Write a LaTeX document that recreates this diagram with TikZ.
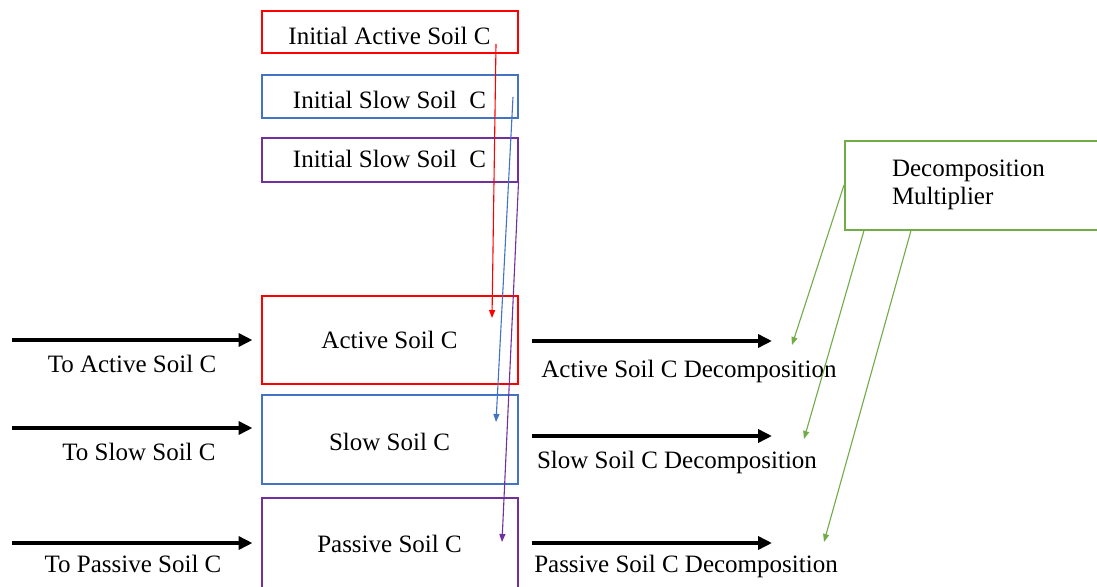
\documentclass[tikz,border=0pt]{standalone}
\usepackage{fontspec}
\setmainfont{Liberation Serif}
\usetikzlibrary{arrows.meta}
\definecolor{cred}{HTML}{FF0000}
\definecolor{cblue}{HTML}{4472C4}
\definecolor{cpurple}{HTML}{7030A0}
\definecolor{cgreen}{HTML}{70AD47}
\begin{document}
\begin{tikzpicture}[x=1pt,y=-1pt,
  every node/.style={font=\fontsize{25}{28}\selectfont},
  box/.style={draw,line width=2pt,minimum width=256pt,inner sep=0pt,text depth=0pt},
  big/.style={line width=4pt,-{Triangle[length=14pt,width=13pt]}},
  thinarrow/.style={line width=1.1pt,-{Triangle[length=8pt,width=6pt]}},
  lab/.style={anchor=base,inner sep=0pt}]
\useasboundingbox (0,0) rectangle (1097,586);
\fill[white] (0,0) rectangle (1097,586);
\clip (0,0) rectangle (1097,586);

% boxes
\node[box,draw=cred,minimum height=42pt,text height=25pt] (ia) at (389.5,32.5) {Initial Active Soil C};
\node[box,draw=cblue,minimum height=43pt,text height=24pt] (isb) at (389.5,96) {Initial Slow Soil~~C};
\node[box,draw=cpurple,minimum height=44pt,text height=15pt] (isp) at (389.5,159.5) {Initial Slow Soil~~C};
\node[box,draw=cred,minimum height=88pt,text height=17pt] (act) at (389.5,339.5) {Active Soil C};
\node[box,draw=cblue,minimum height=89pt,text height=22pt] (slow) at (389.5,439) {Slow Soil C};
\node[box,draw=cpurple,minimum height=92pt,text height=16pt] (pas) at (389.5,544) {Passive Soil C};

\node[draw=cgreen,line width=2pt,minimum height=89pt,text width=171pt,inner xsep=47pt,inner ysep=0pt,align=left] (dm) at (977.5,185) {Decomposition\\Multiplier};

% inflow arrows
\coordinate (ta) at (12,340);
\coordinate (ts) at (12,428);
\coordinate (tp) at (12,543);
\draw[big,shorten >=8pt] (ta) -- (act.west |- ta);
\draw[big,shorten >=8pt] (ts) -- (slow.west |- ts);
\draw[big,shorten >=8pt] (tp) -- (pas.west |- tp);
\node[lab] (lta) at (132,372) {To Active Soil C};
\node[lab] (lts) at (139,460) {To Slow Soil C};
\node[lab] (ltp) at (133,572) {To Passive Soil C};

% outflow arrows
\coordinate (ea) at (772,341);
\coordinate (es) at (772,436);
\coordinate (ep) at (772,543);
\draw[big,shorten <=13pt] (act.east |- ea) -- (ea);
\draw[big,shorten <=13pt] (slow.east |- es) -- (es);
\draw[big,shorten <=13pt] (pas.east |- ep) -- (ep);
\node[lab] (lda) at (689,377) {Active Soil C Decomposition};
\node[lab] (lds) at (677,468) {Slow Soil C Decomposition};
\node[lab] (ldp) at (686,572) {Passive Soil C Decomposition};

% initial value links
\coordinate (rs) at (496,44);
\coordinate (re) at (492,318);
\coordinate (bs) at (513,97);
\coordinate (be) at (496,422);
\coordinate (pe) at (502,542);
\draw[thinarrow,cred] (rs) -- (re);
\draw[thinarrow,cblue] (bs) -- (be);
\draw[thinarrow,cpurple] (isp.south east) -- (pe);

% multiplier links
\coordinate (g1) at (792,345);
\coordinate (g2) at (804,439);
\coordinate (g3) at (824,542);
\draw[thinarrow,cgreen] (dm.west) -- (g1);
\draw[thinarrow,cgreen] ([xshift=20pt]dm.south west) -- (g2);
\draw[thinarrow,cgreen] ([xshift=67pt]dm.south west) -- (g3);
\end{tikzpicture}
\end{document}
